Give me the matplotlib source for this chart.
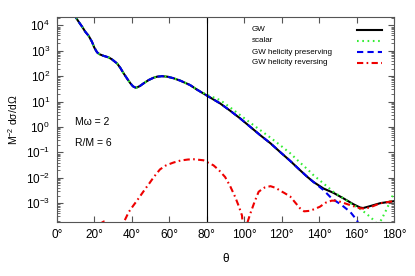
import numpy as np
import matplotlib
matplotlib.use("Agg")
import matplotlib.pyplot as plt
from matplotlib.ticker import LogLocator, FixedLocator, NullFormatter

plt.rcParams['font.family'] = ['Liberation Sans', 'DejaVu Sans']
plt.rcParams['mathtext.fontset'] = 'custom'
plt.rcParams['mathtext.rm'] = 'Liberation Sans'
plt.rcParams['mathtext.default'] = 'regular'
plt.rcParams['lines.scale_dashes'] = False

# angles in degrees, values stored as log10 of M^-2 dsigma/dOmega
# shared low-angle part (all GW curves and scalar lie on top of each other there)
low_theta = [8, 9.8, 11.6, 13.4, 15.1, 16.9, 18.7, 19.9, 21.4, 22.8, 24.9, 27.6, 29.4,
             32.1, 33.8, 35.6, 37.4, 39.2, 40.6, 42.2, 44.2, 46.3, 49, 51.6, 53.4, 56,
             59, 62.2, 66, 71.1, 75]
low_log = [4.9, 4.34, 4.14, 3.95, 3.75, 3.59, 3.35, 3.13, 2.94, 2.86, 2.80, 2.74, 2.66,
           2.50, 2.33, 2.11, 1.91, 1.72, 1.60, 1.54, 1.61, 1.72, 1.85, 1.94, 1.98, 2.0,
           1.98, 1.92, 1.82, 1.65, 1.46]

mid_theta = [80, 87.1, 92.5, 97.8, 103, 108.5, 114, 119.1, 124.5, 129.8, 133.5, 136.9]
mid_log = [1.24, 0.93, 0.64, 0.34, 0.02, -0.32, -0.64, -0.98, -1.33, -1.70, -1.95, -2.16]

gw_theta = low_theta + mid_theta + [142.3, 147.6, 153, 158.3, 161.9, 163.5, 167, 172.6,
                                    178, 180]
gw_log = low_log + mid_log + [-2.42, -2.59, -2.81, -3.04, -3.17, -3.19, -3.12, -3.0,
                              -2.94, -2.92]

scalar_theta = low_theta + [80, 87.1, 92.5, 97.8, 103, 108.5, 114, 119.1, 124.5, 129.8,
                            134.3, 136.9, 142.3, 147.6, 153, 158.3, 162.8, 167.3, 170,
                            171.3, 173.6, 176.3, 179, 180]
scalar_log = low_log + [1.27, 1.06, 0.77, 0.47, 0.18, -0.12, -0.42, -0.71, -1.03, -1.40,
                        -1.70, -1.89, -2.22, -2.55, -2.81, -3.07, -3.27, -3.54, -3.73,
                        -3.9, -3.6, -3.2, -2.75, -2.6]

pres_theta = low_theta + mid_theta + [142.3, 146.7, 152, 156.6, 160.2, 161.5]
pres_log = low_log + mid_log + [-2.48, -2.81, -3.07, -3.34, -3.67, -3.9]

rev_theta = [18, 22, 25, 28, 31, 34, 36, 38.3, 40.5, 42.8, 45, 47.2, 49.5, 51.7, 55, 58,
             60, 62.2, 66, 70, 73, 78.2, 83.6, 86.5, 89.8, 92.5, 95.2, 97, 98.8, 99.3,
             100.2, 101.1, 103.2, 105.5, 107.7, 109.5, 111, 114, 117, 119, 121.5, 124.6,
             127.3, 129.8, 132, 135.1, 137.5, 140.4, 143.5, 146.7, 149, 151.1, 156.4,
             161.8, 164, 167.1, 172.6, 178, 180]
rev_log = [-4.3, -3.85, -3.72, -3.85, -4.3, -3.9, -3.7, -3.35, -3.12, -2.89, -2.66, -2.43,
           -2.2, -1.97, -1.67, -1.52, -1.46, -1.40, -1.32, -1.28, -1.27, -1.31, -1.51,
           -1.7, -1.97, -2.33, -2.76, -3.1, -3.48, -3.9, -5.0, -3.9, -3.42, -2.95, -2.55,
           -2.45, -2.38, -2.33, -2.4, -2.5, -2.6, -2.74, -2.98, -3.2, -3.32, -3.3, -3.23,
           -3.14, -2.98, -2.9, -2.9, -2.94, -3.07, -3.2, -3.21, -3.17, -3.0, -2.94, -2.92]

labels = ["GW", "scalar", "GW helicity preserving", "GW helicity reversing"]

fig = plt.figure(figsize=(4.15, 2.76), dpi=100)
ax = fig.add_axes([57 / 415, 1 - 222 / 276, 337 / 415, 205 / 276])

styles = [
    dict(color="black", lw=1.5, ls="-"),
    dict(color="#33ee33", lw=1.5, ls=(0, (1.2, 2.6))),
    dict(color="#0000ee", lw=1.5, ls=(0, (4.5, 3.0))),
    dict(color="#ee0000", lw=1.5, ls=(0, (4.5, 2.4, 1.2, 2.4))),
]

# same order as gnuplot: later curves are drawn on top
ax.plot(gw_theta, np.power(10.0, gw_log), **styles[0])
ax.plot(scalar_theta, np.power(10.0, scalar_log), **styles[1])
ax.plot(pres_theta, np.power(10.0, pres_log), **styles[2])
ax.plot(rev_theta, np.power(10.0, rev_log), **styles[3])

ax.axvline(80, color="black", lw=0.8)

ax.set_yscale("log")
ax.set_xlim(0, 180)
ax.set_ylim(10 ** -3.74, 10 ** 4.33)

ax.xaxis.set_major_locator(FixedLocator(range(0, 181, 20)))
ax.set_xticklabels([f"{t}\u00b0" for t in range(0, 181, 20)])
ax.yaxis.set_major_locator(FixedLocator([10.0 ** k for k in range(-3, 5)]))
ax.set_yticklabels([f"$10^{{{k}}}$" for k in range(-3, 5)])
ax.yaxis.set_minor_locator(LogLocator(base=10, subs=np.arange(2, 10), numticks=20))
ax.yaxis.set_minor_formatter(NullFormatter())

ax.tick_params(which="both", direction="in", top=True, right=True, color="#555555",
               labelsize=8.5, pad=5)
ax.tick_params(which="major", length=4.5, width=0.8)
ax.tick_params(which="minor", length=2.5, width=0.6)
for s in ax.spines.values():
    s.set_color("#555555")
    s.set_linewidth(0.8)

ax.set_xlabel("\u03b8", fontsize=8.5, labelpad=9)
ax.set_ylabel("M$^{-2}$ d\u03c3/d\u03a9", fontsize=7.5, labelpad=4)

ax.text(0.053, 0.488, "M\u03c9 = 2", transform=ax.transAxes, fontsize=7.5, va="center")
ax.text(0.053, 0.387, "R/M = 6", transform=ax.transAxes, fontsize=7.5, va="center")

# gnuplot style key
key_y = [0.937, 0.883, 0.829, 0.776]
for lab, st, yy in zip(labels, styles, key_y):
    ax.text(0.579, yy, lab, transform=ax.transAxes, fontsize=5.8, va="center")
    ax.plot([0.89, 0.964], [yy, yy], transform=ax.transAxes, clip_on=False, **st)

fig.savefig("out.png", dpi=100)
